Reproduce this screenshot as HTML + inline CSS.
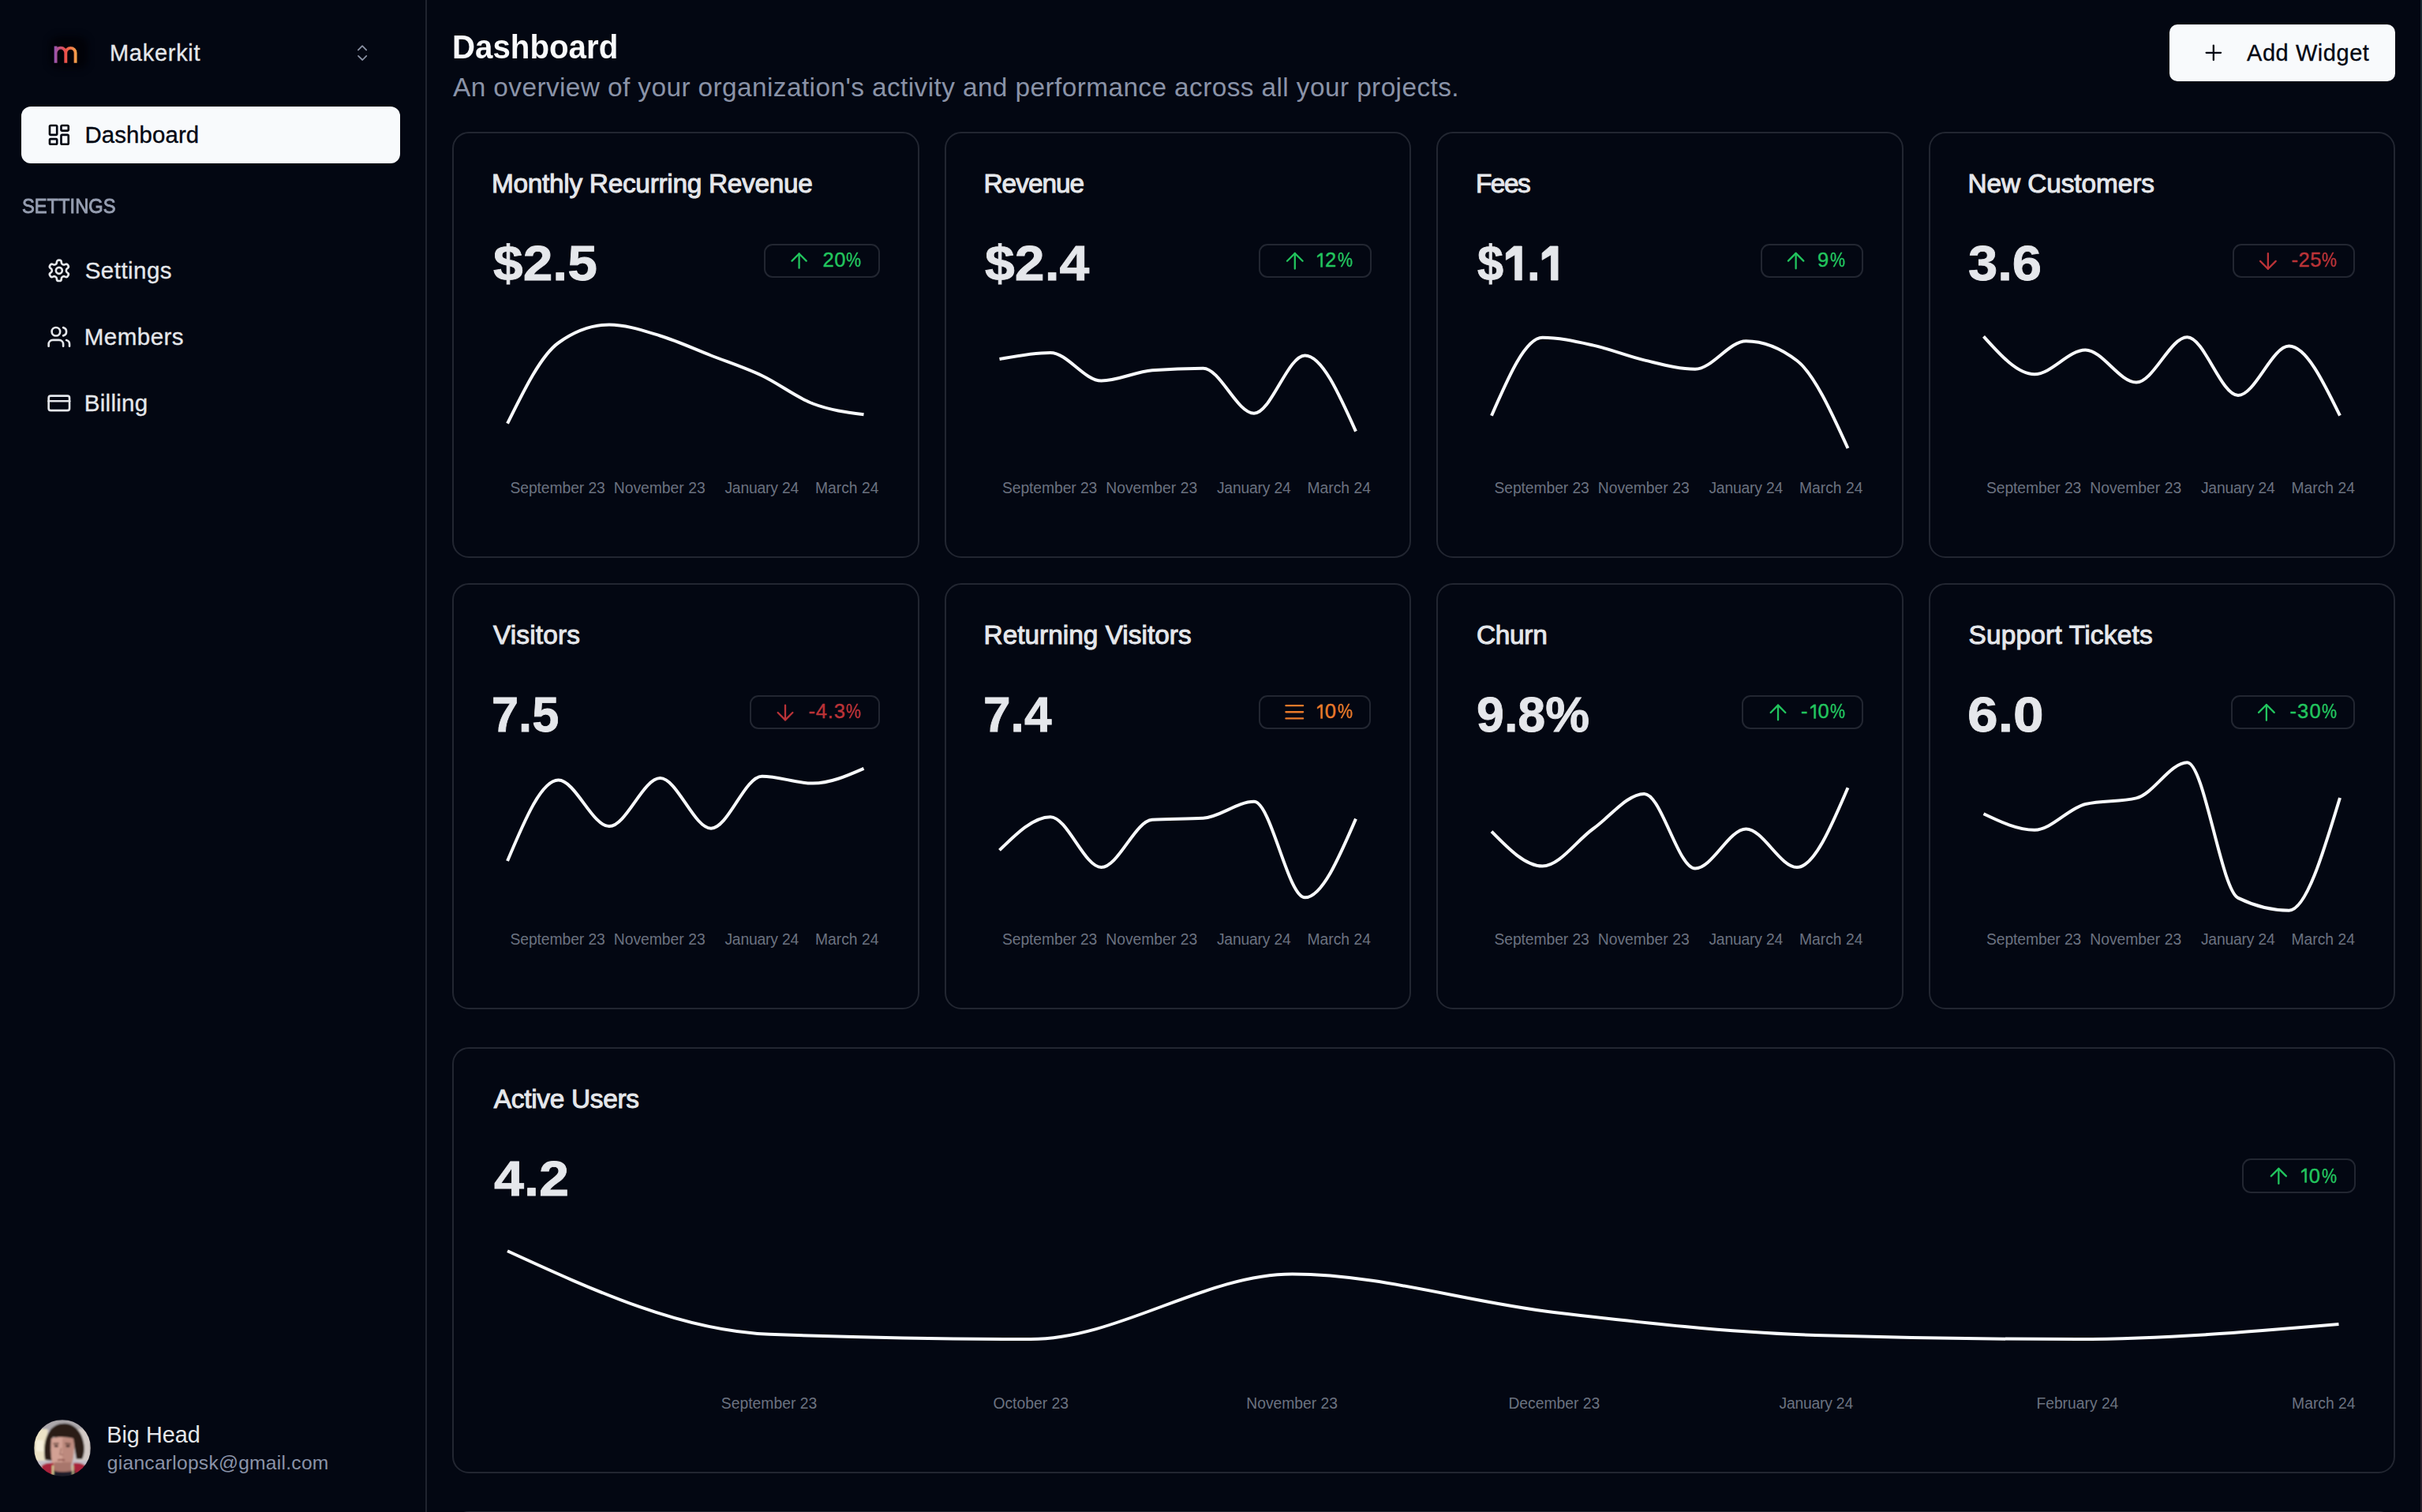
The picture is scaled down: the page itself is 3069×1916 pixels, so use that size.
<!DOCTYPE html>
<html><head><meta charset="utf-8"><title>Dashboard</title>
<style>
*{margin:0;padding:0;box-sizing:border-box}
html,body{width:3069px;height:1916px;overflow:hidden;background:#030712}
body{position:relative;font-family:"Liberation Sans",sans-serif}
.t{position:absolute;white-space:nowrap;line-height:1}
.one{display:inline-block;height:0.8em;vertical-align:baseline;overflow:visible}
.pc{display:inline-block;transform:scaleX(0.84);transform-origin:0 0}
.ic{position:absolute;overflow:visible}
.card{position:absolute;border:2px solid #222631;border-radius:21px}
.badge{position:absolute;border:2px solid #222631;border-radius:11px}
.charts{position:absolute;left:0;top:0}
.sidebar-line{position:absolute;left:539px;top:0;width:2px;height:1916px;background:#20242f}
.navact{position:absolute;left:27px;top:135px;width:480px;height:72px;border-radius:12px;background:#f8fafc}
.addbtn{position:absolute;left:2749px;top:31px;width:286px;height:72px;border-radius:10px;background:#f8fafc}
.edge{position:absolute;left:3067px;top:0;width:2px;height:1916px;background:linear-gradient(#1b2a33,#2d2a22 50%,#2a1f2c)}
</style></head><body>
<div class="sidebar-line"></div>
<div style="position:absolute;left:63px;top:46px;width:48px;height:41px;border-radius:12px;background:#010208;filter:blur(4px)"></div>
<div class="navact"></div>
<div class="addbtn"></div>
<div class="edge"></div>
<div class="card" style="left:573px;top:167px;width:591.5px;height:540px"></div><div class="badge" style="left:967.5px;top:308.6px;width:147.1px;height:43px"></div><svg class="ic" style="left:997.15px;top:315.00px;width:31.20px;height:31.20px" viewBox="0 0 24 24" fill="none" stroke="#22c55e" stroke-width="1.769" stroke-linecap="round" stroke-linejoin="round"><path d="m5 12 7-7 7 7"/><path d="M12 19V5"/></svg><div class="card" style="left:1196.5px;top:167px;width:591.5px;height:540px"></div><div class="badge" style="left:1595.0px;top:308.6px;width:142.6px;height:43px"></div><svg class="ic" style="left:1624.15px;top:313.80px;width:33.60px;height:33.60px" viewBox="0 0 24 24" fill="none" stroke="#22c55e" stroke-width="1.643" stroke-linecap="round" stroke-linejoin="round"><path d="m5 12 7-7 7 7"/><path d="M12 19V5"/></svg><div class="card" style="left:1820px;top:167px;width:591.5px;height:540px"></div><div class="badge" style="left:2230.6px;top:308.6px;width:130.4px;height:43px"></div><svg class="ic" style="left:2259.22px;top:313.97px;width:33.26px;height:33.26px" viewBox="0 0 24 24" fill="none" stroke="#22c55e" stroke-width="1.660" stroke-linecap="round" stroke-linejoin="round"><path d="m5 12 7-7 7 7"/><path d="M12 19V5"/></svg><div class="card" style="left:2443.5px;top:167px;width:591.5px;height:540px"></div><div class="badge" style="left:2829.0px;top:308.6px;width:155.0px;height:43px"></div><svg class="ic" style="left:2857.11px;top:313.71px;width:33.77px;height:33.77px" viewBox="0 0 24 24" fill="none" stroke="#bb3338" stroke-width="1.635" stroke-linecap="round" stroke-linejoin="round"><path d="M12 5v14"/><path d="m19 12-7 7-7-7"/></svg><div class="card" style="left:573px;top:739px;width:591.5px;height:540px"></div><div class="badge" style="left:950.0px;top:880.6px;width:164.7px;height:43px"></div><svg class="ic" style="left:979.47px;top:886.57px;width:32.06px;height:32.06px" viewBox="0 0 24 24" fill="none" stroke="#bb3338" stroke-width="1.722" stroke-linecap="round" stroke-linejoin="round"><path d="M12 5v14"/><path d="m19 12-7 7-7-7"/></svg><div class="card" style="left:1196.5px;top:739px;width:591.5px;height:540px"></div><div class="badge" style="left:1594.6px;top:880.6px;width:142.4px;height:43px"></div><svg class="ic" style="left:1623.73px;top:886.33px;width:32.55px;height:32.55px" viewBox="0 0 24 24" fill="none" stroke="#ea7a2a" stroke-width="1.696" stroke-linecap="round" stroke-linejoin="round"><line x1="4" x2="20" y1="12" y2="12"/><line x1="4" x2="20" y1="6" y2="6"/><line x1="4" x2="20" y1="18" y2="18"/></svg><div class="card" style="left:1820px;top:739px;width:591.5px;height:540px"></div><div class="badge" style="left:2207.4px;top:880.6px;width:153.6px;height:43px"></div><svg class="ic" style="left:2236.87px;top:886.57px;width:32.06px;height:32.06px" viewBox="0 0 24 24" fill="none" stroke="#22c55e" stroke-width="1.722" stroke-linecap="round" stroke-linejoin="round"><path d="m5 12 7-7 7 7"/><path d="M12 19V5"/></svg><div class="card" style="left:2443.5px;top:739px;width:591.5px;height:540px"></div><div class="badge" style="left:2826.5px;top:880.6px;width:157.5px;height:43px"></div><svg class="ic" style="left:2855.11px;top:885.71px;width:33.77px;height:33.77px" viewBox="0 0 24 24" fill="none" stroke="#22c55e" stroke-width="1.635" stroke-linecap="round" stroke-linejoin="round"><path d="m5 12 7-7 7 7"/><path d="M12 19V5"/></svg><div class="card" style="left:573px;top:1327px;width:2462px;height:540px"></div><div class="card" style="left:573px;top:1915px;width:2462px;height:540px"></div><div class="badge" style="left:2841.3px;top:1468.3px;width:143.5px;height:43.4px"></div><svg class="ic" style="left:2870.73px;top:1474.23px;width:32.74px;height:32.74px" viewBox="0 0 24 24" fill="none" stroke="#22c55e" stroke-width="1.686" stroke-linecap="round" stroke-linejoin="round"><path d="m5 12 7-7 7 7"/><path d="M12 19V5"/></svg>
<svg class="charts" width="3069" height="1916" viewBox="0 0 3069 1916" fill="none" stroke="#f8fafc" stroke-width="4"><path d="M643.00,536.70 C664.50,493.27 686.00,449.83 707.50,434.50 C729.00,419.17 750.50,411.50 772.00,411.50 C793.50,411.50 815.00,419.00 836.50,425.50 C858.00,432.00 879.50,442.08 901.00,450.50 C922.50,458.92 944.00,465.83 965.50,476.00 C987.00,486.17 1008.50,503.28 1030.00,511.50 C1051.50,519.72 1073.00,522.51 1094.50,525.30"/><path d="M1266.50,455.00 C1288.00,450.95 1309.50,446.90 1331.00,446.90 C1352.50,446.90 1374.00,482.50 1395.50,482.50 C1417.00,482.50 1438.50,471.03 1460.00,469.30 C1481.50,467.57 1503.00,466.70 1524.50,466.70 C1546.00,466.70 1567.50,523.80 1589.00,523.80 C1610.50,523.80 1632.00,450.40 1653.50,450.40 C1675.00,450.40 1696.50,498.50 1718.00,546.60"/><path d="M1890.00,526.70 C1911.50,477.20 1933.00,427.70 1954.50,427.70 C1976.00,427.70 1997.50,432.82 2019.00,437.60 C2040.50,442.38 2062.00,451.38 2083.50,456.40 C2105.00,461.42 2126.50,467.70 2148.00,467.70 C2169.50,467.70 2191.00,432.20 2212.50,432.20 C2234.00,432.20 2255.50,440.47 2277.00,457.00 C2298.50,473.53 2320.00,520.77 2341.50,568.00"/><path d="M2513.50,426.30 C2535.00,450.25 2556.50,474.20 2578.00,474.20 C2599.50,474.20 2621.00,443.50 2642.50,443.50 C2664.00,443.50 2685.50,484.50 2707.00,484.50 C2728.50,484.50 2750.00,427.30 2771.50,427.30 C2793.00,427.30 2814.50,501.00 2836.00,501.00 C2857.50,501.00 2879.00,438.60 2900.50,438.60 C2922.00,438.60 2943.50,482.65 2965.00,526.70"/><path d="M643.00,1091.10 C664.50,1039.85 686.00,988.60 707.50,988.60 C729.00,988.60 750.50,1047.10 772.00,1047.10 C793.50,1047.10 815.00,986.10 836.50,986.10 C858.00,986.10 879.50,1049.70 901.00,1049.70 C922.50,1049.70 944.00,983.70 965.50,983.70 C987.00,983.70 1008.50,992.60 1030.00,992.60 C1051.50,992.60 1073.00,983.20 1094.50,973.80"/><path d="M1266.50,1077.40 C1288.00,1056.30 1309.50,1035.20 1331.00,1035.20 C1352.50,1035.20 1374.00,1099.00 1395.50,1099.00 C1417.00,1099.00 1438.50,1040.13 1460.00,1038.80 C1481.50,1037.47 1503.00,1038.13 1524.50,1036.80 C1546.00,1035.47 1567.50,1015.80 1589.00,1015.80 C1610.50,1015.80 1632.00,1137.30 1653.50,1137.30 C1675.00,1137.30 1696.50,1087.45 1718.00,1037.60"/><path d="M1890.00,1053.70 C1911.50,1075.65 1933.00,1097.60 1954.50,1097.60 C1976.00,1097.60 1997.50,1065.28 2019.00,1050.00 C2040.50,1034.72 2062.00,1005.90 2083.50,1005.90 C2105.00,1005.90 2126.50,1100.60 2148.00,1100.60 C2169.50,1100.60 2191.00,1050.50 2212.50,1050.50 C2234.00,1050.50 2255.50,1099.00 2277.00,1099.00 C2298.50,1099.00 2320.00,1048.60 2341.50,998.20"/><path d="M2513.50,1031.20 C2535.00,1041.45 2556.50,1051.70 2578.00,1051.70 C2599.50,1051.70 2621.00,1024.07 2642.50,1019.00 C2664.00,1013.93 2685.50,1016.47 2707.00,1011.40 C2728.50,1006.33 2750.00,966.30 2771.50,966.30 C2793.00,966.30 2814.50,1127.37 2836.00,1137.90 C2857.50,1148.43 2879.00,1153.70 2900.50,1153.70 C2922.00,1153.70 2943.50,1082.35 2965.00,1011.00"/><path d="M643.00,1585.20 C753.50,1635.93 864.00,1686.67 974.50,1690.80 C1085.00,1694.93 1195.50,1697.00 1306.00,1697.00 C1416.50,1697.00 1527.00,1614.50 1637.50,1614.50 C1748.00,1614.50 1858.50,1650.08 1969.00,1663.00 C2079.50,1675.92 2190.00,1688.67 2300.50,1692.00 C2411.00,1695.33 2521.50,1697.00 2632.00,1697.00 C2742.50,1697.00 2853.00,1687.50 2963.50,1678.00"/></svg>
<svg class="ic" style="left:60px;top:50px;width:46px;height:38px" viewBox="60 50 46 38" fill="none">
<defs><linearGradient id="lg" x1="68" y1="0" x2="98" y2="0" gradientUnits="userSpaceOnUse">
<stop offset="0" stop-color="#8f55b8"/><stop offset="0.5" stop-color="#ee4f48"/><stop offset="1" stop-color="#f4a84a"/></linearGradient></defs>
<path d="M70.6 79.7V58.6M70.6 67A6.35 6.35 0 0 1 83.3 67V79.7M83.3 67A6.15 6.15 0 0 1 95.6 67V79.7" stroke="url(#lg)" stroke-width="3.9"/>
</svg><svg class="ic" style="left:447px;top:52px;width:24px;height:30px" viewBox="447 52 24 30" fill="none" stroke="#8b93a5" stroke-width="1.75" stroke-linecap="round" stroke-linejoin="round">
<path d="M453.9 63.3L459.1 58.2L464.2 63.3M454 70.9L459.3 76.0L464.3 70.9"/></svg><svg class="ic" style="left:59.1px;top:155px;width:31.7px;height:31.7px" viewBox="0 0 24 24" fill="none" stroke="#030712" stroke-width="2" stroke-linecap="round" stroke-linejoin="round"><rect width="7" height="9" x="3" y="3" rx="1"/><rect width="7" height="5" x="14" y="3" rx="1"/><rect width="7" height="9" x="14" y="12" rx="1"/><rect width="7" height="5" x="3" y="16" rx="1"/></svg><svg class="ic" style="left:59px;top:327px;width:31.7px;height:31.7px" viewBox="0 0 24 24" fill="none" stroke="#e5e7eb" stroke-width="2" stroke-linecap="round" stroke-linejoin="round"><path d="M12.22 2h-.44a2 2 0 0 0-2 2v.18a2 2 0 0 1-1 1.73l-.43.25a2 2 0 0 1-2 0l-.15-.08a2 2 0 0 0-2.73.73l-.22.38a2 2 0 0 0 .73 2.73l.15.1a2 2 0 0 1 1 1.72v.51a2 2 0 0 1-1 1.74l-.15.09a2 2 0 0 0-.73 2.73l.22.38a2 2 0 0 0 2.73.73l.15-.08a2 2 0 0 1 2 0l.43.25a2 2 0 0 1 1 1.73V20a2 2 0 0 0 2 2h.44a2 2 0 0 0 2-2v-.18a2 2 0 0 1 1-1.73l.43-.25a2 2 0 0 1 2 0l.15.08a2 2 0 0 0 2.73-.73l.22-.39a2 2 0 0 0-.73-2.73l-.15-.08a2 2 0 0 1-1-1.74v-.5a2 2 0 0 1 1-1.74l.15-.09a2 2 0 0 0 .73-2.73l-.22-.38a2 2 0 0 0-2.73-.73l-.15.08a2 2 0 0 1-2 0l-.43-.25a2 2 0 0 1-1-1.73V4a2 2 0 0 0-2-2z"/><circle cx="12" cy="12" r="3"/></svg><svg class="ic" style="left:59px;top:411px;width:31.7px;height:31.7px" viewBox="0 0 24 24" fill="none" stroke="#e5e7eb" stroke-width="2" stroke-linecap="round" stroke-linejoin="round"><path d="M16 21v-2a4 4 0 0 0-4-4H6a4 4 0 0 0-4 4v2"/><circle cx="9" cy="7" r="4"/><path d="M22 21v-2a4 4 0 0 0-3-3.87"/><path d="M16 3.13a4 4 0 0 1 0 7.75"/></svg><svg class="ic" style="left:59px;top:495px;width:31.7px;height:31.7px" viewBox="0 0 24 24" fill="none" stroke="#e5e7eb" stroke-width="2" stroke-linecap="round" stroke-linejoin="round"><rect width="20" height="14" x="2" y="5" rx="2"/><line x1="2" x2="22" y1="10" y2="10"/></svg><svg class="ic" style="left:2788.8px;top:51.0px;width:31.7px;height:31.7px" viewBox="0 0 24 24" fill="none" stroke="#030712" stroke-width="1.75" stroke-linecap="round" stroke-linejoin="round"><path d="M5 12h14"/><path d="M12 5v14"/></svg><svg class="ic" style="left:43.1px;top:1798.8px;width:72px;height:72px" viewBox="0 0 72 72">
<defs><clipPath id="av"><circle cx="36" cy="36" r="36"/></clipPath>
<filter id="bl" x="-10%" y="-10%" width="120%" height="120%"><feGaussianBlur stdDeviation="1.0"/></filter></defs>
<g clip-path="url(#av)"><g filter="url(#bl)">
<rect width="72" height="72" fill="#c9c2c4"/>
<rect x="0" y="0" width="72" height="13" fill="#aca7ab"/>
<rect x="0" y="12" width="17" height="42" fill="#ece3c6"/>
<rect x="3" y="26" width="9" height="14" fill="#f6f0dc"/>
<rect x="54" y="12" width="18" height="42" fill="#d3cac6"/>
<rect x="0" y="52" width="72" height="7" fill="#c4bec8"/>
<path d="M14 51 C12 38 13 24 20 14 C26 6 36 3 46 6 C56 10 62 20 63.5 32 C64.5 40 63 46 61 50 L54 50 C52 40 51 30 49 24 C42 26 32 24 24 22 C22 30 22 42 24 52Z" fill="#2c1f18"/>
<path d="M22 24 C30 21 42 22 50 24 C51 34 51 46 48 56 C45 61 40 63 35 63 C29 63 25 60 23 55 C21 45 21 34 22 24Z" fill="#d3a194"/>
<path d="M36 24 C42 23 47 23 50 24 C51 34 51 46 48 56 C45 61 40 63 36 63Z" fill="#bd8a7e"/>
<path d="M26 54 L47 54 L48 68 L25 68Z" fill="#a8766c"/>
<path d="M10 58 C14 55 20 54 25 55 L27 72 L8 72Z" fill="#a9203a"/>
<path d="M50 55 C56 54 62 55 66 59 L64 72 L49 72Z" fill="#a9203a"/>
<path d="M24 64 C30 67 42 67 52 64 L53 72 L23 72Z" fill="#1c1a2a"/>
<rect x="23" y="58" width="2.2" height="12" fill="#d8d49a"/>
<rect x="48.5" y="58" width="2" height="12" fill="#c8c490"/>
<ellipse cx="28.3" cy="33.6" rx="2.8" ry="1.4" fill="#3b2420"/>
<ellipse cx="43" cy="33.6" rx="2.8" ry="1.4" fill="#3b2420"/>
<path d="M24.5 30.5 L31.5 30.2 M39.5 30.2 L46.5 30.6" stroke="#4a2c24" stroke-width="1.4"/>
<path d="M34.5 36 L33 44 L37 44.5" stroke="#9a6a5e" stroke-width="1.3" fill="none"/>
<path d="M30 51.5 C33 50.5 36 50.5 39 51.5" stroke="#7a3f3a" stroke-width="1.6" fill="none"/>
</g></g></svg>
<div id="mk" class="t" style="left:139.00px;top:53.45px;font-size:29.00px;font-weight:400;color:#e5e7eb;letter-spacing:0.714px;-webkit-text-stroke:0.3px">Makerkit</div><div id="navdash" class="t" style="left:107.40px;top:156.12px;font-size:29.40px;font-weight:400;color:#030712;letter-spacing:0.125px;-webkit-text-stroke:0.35px">Dashboard</div><div id="settings_h" class="t" style="left:28.00px;top:249.42px;font-size:25.50px;font-weight:400;color:#969eb1;letter-spacing:0.000px;-webkit-text-stroke:0.9px;transform:scaleX(0.9291);transform-origin:0 0;">SETTINGS</div><div id="nav_set" class="t" style="left:107.70px;top:327.95px;font-size:29.60px;font-weight:400;color:#e5e7eb;letter-spacing:0.429px;-webkit-text-stroke:0.3px">Settings</div><div id="nav_mem" class="t" style="left:106.70px;top:411.95px;font-size:29.60px;font-weight:400;color:#e5e7eb;letter-spacing:0.433px;-webkit-text-stroke:0.3px">Members</div><div id="nav_bil" class="t" style="left:106.70px;top:496.25px;font-size:29.60px;font-weight:400;color:#e5e7eb;letter-spacing:0.267px;-webkit-text-stroke:0.3px">Billing</div><div id="uname" class="t" style="left:135.20px;top:1804.32px;font-size:28.80px;font-weight:400;color:#e5e7eb;letter-spacing:0.029px;">Big Head</div><div id="uemail" class="t" style="left:135.80px;top:1842.08px;font-size:24.60px;font-weight:400;color:#8a93a8;letter-spacing:0.257px;">giancarlopsk@gmail.com</div><div id="h1" class="t" style="left:573.30px;top:38.51px;font-size:42.40px;font-weight:700;color:#f9fafb;letter-spacing:0.000px;;transform:scaleX(0.9496);transform-origin:0 0;">Dashboard</div><div id="sub" class="t" style="left:574.00px;top:93.73px;font-size:33.40px;font-weight:400;color:#8a93a8;letter-spacing:0.405px;">An overview of your organization's activity and performance across all your projects.</div><div id="addw" class="t" style="left:2847.00px;top:53.45px;font-size:29.00px;font-weight:400;color:#030712;letter-spacing:0.556px;-webkit-text-stroke:0.3px">Add Widget</div><div id="ct0" class="t" style="left:623.00px;top:215.73px;font-size:33.40px;font-weight:400;color:#e5e7eb;letter-spacing:-0.292px;-webkit-text-stroke:1.0px">Monthly Recurring Revenue</div><div id="cv0" class="t" style="left:624.50px;top:302.40px;font-size:62.50px;font-weight:700;color:#e5e7eb;letter-spacing:0.000px;-webkit-text-stroke:0.8px;transform:scaleX(1.0835);transform-origin:0 0;">$2.5</div><div id="cb0" class="t" style="left:1042.40px;top:317.42px;font-size:25.50px;font-weight:400;color:#22c55e;letter-spacing:0.600px;-webkit-text-stroke:0.4px">20<span class="pc">%</span></div><div id="cl0_0" class="t" style="left:646.50px;top:608.66px;font-size:19.30px;font-weight:400;color:#6b7280;letter-spacing:-0.073px;">September 23</div><div id="cl0_1" class="t" style="left:777.70px;top:608.66px;font-size:19.30px;font-weight:400;color:#6b7280;letter-spacing:0.020px;">November 23</div><div id="cl0_2" class="t" style="left:918.40px;top:608.66px;font-size:19.30px;font-weight:400;color:#6b7280;letter-spacing:-0.178px;">January 24</div><div id="cl0_3" class="t" style="left:1033.00px;top:608.66px;font-size:19.30px;font-weight:400;color:#6b7280;letter-spacing:0.000px;">March 24</div><div id="ct1" class="t" style="left:1246.50px;top:215.73px;font-size:33.40px;font-weight:400;color:#e5e7eb;letter-spacing:-1.000px;-webkit-text-stroke:1.0px">Revenue</div><div id="cv1" class="t" style="left:1248.00px;top:302.40px;font-size:62.50px;font-weight:700;color:#e5e7eb;letter-spacing:0.000px;-webkit-text-stroke:0.8px;transform:scaleX(1.0880);transform-origin:0 0;">$2.4</div><div id="cb1" class="t" style="left:1667.30px;top:317.42px;font-size:25.50px;font-weight:400;color:#22c55e;letter-spacing:1.700px;-webkit-text-stroke:0.4px"><svg class="one" viewBox="0 0 46 80" style="width:0.46em"><path fill="currentColor" stroke="currentColor" stroke-width="1.6" d="M25 11.2H34.5V80H25.5V23L8.5 32.5V24Z"/></svg>2<span class="pc">%</span></div><div id="cl1_0" class="t" style="left:1270.00px;top:608.66px;font-size:19.30px;font-weight:400;color:#6b7280;letter-spacing:-0.073px;">September 23</div><div id="cl1_1" class="t" style="left:1401.20px;top:608.66px;font-size:19.30px;font-weight:400;color:#6b7280;letter-spacing:0.020px;">November 23</div><div id="cl1_2" class="t" style="left:1541.90px;top:608.66px;font-size:19.30px;font-weight:400;color:#6b7280;letter-spacing:-0.178px;">January 24</div><div id="cl1_3" class="t" style="left:1656.50px;top:608.66px;font-size:19.30px;font-weight:400;color:#6b7280;letter-spacing:0.000px;">March 24</div><div id="ct2" class="t" style="left:1870.00px;top:215.73px;font-size:33.40px;font-weight:400;color:#e5e7eb;letter-spacing:-1.533px;-webkit-text-stroke:1.0px">Fees</div><div id="cv2" class="t" style="left:1871.50px;top:302.40px;font-size:62.50px;font-weight:700;color:#e5e7eb;letter-spacing:0.000px;-webkit-text-stroke:0.8px;transform:scaleX(0.9535);transform-origin:0 0;">$<svg class="one" viewBox="0 0 50 80" style="width:0.50em"><path fill="currentColor" stroke="currentColor" stroke-width="1.3" d="M22 11.2H38.5V80H24V28.5L5 39V25Z"/></svg>.<svg class="one" viewBox="0 0 50 80" style="width:0.50em"><path fill="currentColor" stroke="currentColor" stroke-width="1.3" d="M22 11.2H38.5V80H24V28.5L5 39V25Z"/></svg></div><div id="cb2" class="t" style="left:2303.00px;top:317.42px;font-size:25.50px;font-weight:400;color:#22c55e;letter-spacing:2.000px;-webkit-text-stroke:0.4px">9<span class="pc">%</span></div><div id="cl2_0" class="t" style="left:1893.50px;top:608.66px;font-size:19.30px;font-weight:400;color:#6b7280;letter-spacing:-0.073px;">September 23</div><div id="cl2_1" class="t" style="left:2024.70px;top:608.66px;font-size:19.30px;font-weight:400;color:#6b7280;letter-spacing:0.020px;">November 23</div><div id="cl2_2" class="t" style="left:2165.40px;top:608.66px;font-size:19.30px;font-weight:400;color:#6b7280;letter-spacing:-0.178px;">January 24</div><div id="cl2_3" class="t" style="left:2280.00px;top:608.66px;font-size:19.30px;font-weight:400;color:#6b7280;letter-spacing:0.000px;">March 24</div><div id="ct3" class="t" style="left:2493.50px;top:215.73px;font-size:33.40px;font-weight:400;color:#e5e7eb;letter-spacing:-0.083px;-webkit-text-stroke:1.0px">New Customers</div><div id="cv3" class="t" style="left:2494.00px;top:302.40px;font-size:62.50px;font-weight:700;color:#e5e7eb;letter-spacing:0.000px;-webkit-text-stroke:0.8px;transform:scaleX(1.0718);transform-origin:0 0;">3.6</div><div id="cb3" class="t" style="left:2903.40px;top:317.42px;font-size:25.50px;font-weight:400;color:#bb3338;letter-spacing:0.533px;-webkit-text-stroke:0.4px">-25<span class="pc">%</span></div><div id="cl3_0" class="t" style="left:2517.00px;top:608.66px;font-size:19.30px;font-weight:400;color:#6b7280;letter-spacing:-0.073px;">September 23</div><div id="cl3_1" class="t" style="left:2648.20px;top:608.66px;font-size:19.30px;font-weight:400;color:#6b7280;letter-spacing:0.020px;">November 23</div><div id="cl3_2" class="t" style="left:2788.90px;top:608.66px;font-size:19.30px;font-weight:400;color:#6b7280;letter-spacing:-0.178px;">January 24</div><div id="cl3_3" class="t" style="left:2903.50px;top:608.66px;font-size:19.30px;font-weight:400;color:#6b7280;letter-spacing:0.000px;">March 24</div><div id="ct4" class="t" style="left:625.00px;top:787.73px;font-size:33.40px;font-weight:400;color:#e5e7eb;letter-spacing:0.143px;-webkit-text-stroke:1.0px">Visitors</div><div id="cv4" class="t" style="left:622.50px;top:874.40px;font-size:62.50px;font-weight:700;color:#e5e7eb;letter-spacing:0.000px;-webkit-text-stroke:0.8px;transform:scaleX(0.9813);transform-origin:0 0;">7.5</div><div id="cb4" class="t" style="left:1024.40px;top:889.42px;font-size:25.50px;font-weight:400;color:#bb3338;letter-spacing:0.900px;-webkit-text-stroke:0.4px">-4.3<span class="pc">%</span></div><div id="cl4_0" class="t" style="left:646.50px;top:1180.66px;font-size:19.30px;font-weight:400;color:#6b7280;letter-spacing:-0.073px;">September 23</div><div id="cl4_1" class="t" style="left:777.70px;top:1180.66px;font-size:19.30px;font-weight:400;color:#6b7280;letter-spacing:0.020px;">November 23</div><div id="cl4_2" class="t" style="left:918.40px;top:1180.66px;font-size:19.30px;font-weight:400;color:#6b7280;letter-spacing:-0.178px;">January 24</div><div id="cl4_3" class="t" style="left:1033.00px;top:1180.66px;font-size:19.30px;font-weight:400;color:#6b7280;letter-spacing:0.000px;">March 24</div><div id="ct5" class="t" style="left:1246.50px;top:787.73px;font-size:33.40px;font-weight:400;color:#e5e7eb;letter-spacing:0.012px;-webkit-text-stroke:1.0px">Returning Visitors</div><div id="cv5" class="t" style="left:1246.00px;top:874.40px;font-size:62.50px;font-weight:700;color:#e5e7eb;letter-spacing:0.000px;-webkit-text-stroke:0.8px;transform:scaleX(0.9956);transform-origin:0 0;">7.4</div><div id="cb5" class="t" style="left:1667.00px;top:889.42px;font-size:25.50px;font-weight:400;color:#ea7a2a;letter-spacing:2.000px;-webkit-text-stroke:0.4px"><svg class="one" viewBox="0 0 46 80" style="width:0.46em"><path fill="currentColor" stroke="currentColor" stroke-width="1.6" d="M25 11.2H34.5V80H25.5V23L8.5 32.5V24Z"/></svg>0<span class="pc">%</span></div><div id="cl5_0" class="t" style="left:1270.00px;top:1180.66px;font-size:19.30px;font-weight:400;color:#6b7280;letter-spacing:-0.073px;">September 23</div><div id="cl5_1" class="t" style="left:1401.20px;top:1180.66px;font-size:19.30px;font-weight:400;color:#6b7280;letter-spacing:0.020px;">November 23</div><div id="cl5_2" class="t" style="left:1541.90px;top:1180.66px;font-size:19.30px;font-weight:400;color:#6b7280;letter-spacing:-0.178px;">January 24</div><div id="cl5_3" class="t" style="left:1656.50px;top:1180.66px;font-size:19.30px;font-weight:400;color:#6b7280;letter-spacing:0.000px;">March 24</div><div id="ct6" class="t" style="left:1871.00px;top:787.73px;font-size:33.40px;font-weight:400;color:#e5e7eb;letter-spacing:-0.300px;-webkit-text-stroke:1.0px">Churn</div><div id="cv6" class="t" style="left:1870.50px;top:874.40px;font-size:62.50px;font-weight:700;color:#e5e7eb;letter-spacing:0.000px;-webkit-text-stroke:0.8px;transform:scaleX(1.0045);transform-origin:0 0;">9.8%</div><div id="cb6" class="t" style="left:2282.00px;top:889.42px;font-size:25.50px;font-weight:400;color:#22c55e;letter-spacing:1.200px;-webkit-text-stroke:0.4px">-<svg class="one" viewBox="0 0 46 80" style="width:0.46em"><path fill="currentColor" stroke="currentColor" stroke-width="1.6" d="M25 11.2H34.5V80H25.5V23L8.5 32.5V24Z"/></svg>0<span class="pc">%</span></div><div id="cl6_0" class="t" style="left:1893.50px;top:1180.66px;font-size:19.30px;font-weight:400;color:#6b7280;letter-spacing:-0.073px;">September 23</div><div id="cl6_1" class="t" style="left:2024.70px;top:1180.66px;font-size:19.30px;font-weight:400;color:#6b7280;letter-spacing:0.020px;">November 23</div><div id="cl6_2" class="t" style="left:2165.40px;top:1180.66px;font-size:19.30px;font-weight:400;color:#6b7280;letter-spacing:-0.178px;">January 24</div><div id="cl6_3" class="t" style="left:2280.00px;top:1180.66px;font-size:19.30px;font-weight:400;color:#6b7280;letter-spacing:0.000px;">March 24</div><div id="ct7" class="t" style="left:2494.50px;top:787.73px;font-size:33.40px;font-weight:400;color:#e5e7eb;letter-spacing:0.214px;-webkit-text-stroke:1.0px">Support Tickets</div><div id="cv7" class="t" style="left:2493.00px;top:874.40px;font-size:62.50px;font-weight:700;color:#e5e7eb;letter-spacing:0.000px;-webkit-text-stroke:0.8px;transform:scaleX(1.1113);transform-origin:0 0;">6.0</div><div id="cb7" class="t" style="left:2901.40px;top:889.42px;font-size:25.50px;font-weight:400;color:#22c55e;letter-spacing:1.200px;-webkit-text-stroke:0.4px">-30<span class="pc">%</span></div><div id="cl7_0" class="t" style="left:2517.00px;top:1180.66px;font-size:19.30px;font-weight:400;color:#6b7280;letter-spacing:-0.073px;">September 23</div><div id="cl7_1" class="t" style="left:2648.20px;top:1180.66px;font-size:19.30px;font-weight:400;color:#6b7280;letter-spacing:0.020px;">November 23</div><div id="cl7_2" class="t" style="left:2788.90px;top:1180.66px;font-size:19.30px;font-weight:400;color:#6b7280;letter-spacing:-0.178px;">January 24</div><div id="cl7_3" class="t" style="left:2903.50px;top:1180.66px;font-size:19.30px;font-weight:400;color:#6b7280;letter-spacing:0.000px;">March 24</div><div id="bt" class="t" style="left:625.80px;top:1375.73px;font-size:33.40px;font-weight:400;color:#e5e7eb;letter-spacing:-0.291px;-webkit-text-stroke:1.0px">Active Users</div><div id="bv" class="t" style="left:625.60px;top:1462.40px;font-size:62.50px;font-weight:700;color:#e5e7eb;letter-spacing:0.000px;-webkit-text-stroke:0.8px;transform:scaleX(1.0942);transform-origin:0 0;">4.2</div><div id="bb" class="t" style="left:2914.00px;top:1477.62px;font-size:25.50px;font-weight:400;color:#22c55e;letter-spacing:2.000px;-webkit-text-stroke:0.4px"><svg class="one" viewBox="0 0 46 80" style="width:0.46em"><path fill="currentColor" stroke="currentColor" stroke-width="1.6" d="M25 11.2H34.5V80H25.5V23L8.5 32.5V24Z"/></svg>0<span class="pc">%</span></div><div id="bl0" class="t" style="left:913.80px;top:1769.26px;font-size:19.30px;font-weight:400;color:#6b7280;letter-spacing:0.036px;">September 23</div><div id="bl1" class="t" style="left:1258.40px;top:1769.26px;font-size:19.30px;font-weight:400;color:#6b7280;letter-spacing:0.022px;">October 23</div><div id="bl2" class="t" style="left:1579.30px;top:1769.26px;font-size:19.30px;font-weight:400;color:#6b7280;letter-spacing:-0.000px;">November 23</div><div id="bl3" class="t" style="left:1911.40px;top:1769.26px;font-size:19.30px;font-weight:400;color:#6b7280;letter-spacing:0.020px;">December 23</div><div id="bl4" class="t" style="left:2254.50px;top:1769.26px;font-size:19.30px;font-weight:400;color:#6b7280;letter-spacing:-0.200px;">January 24</div><div id="bl5" class="t" style="left:2580.40px;top:1769.26px;font-size:19.30px;font-weight:400;color:#6b7280;letter-spacing:-0.000px;">February 24</div><div id="bl6" class="t" style="left:2904.10px;top:1769.26px;font-size:19.30px;font-weight:400;color:#6b7280;letter-spacing:0.000px;">March 24</div>
</body></html>
